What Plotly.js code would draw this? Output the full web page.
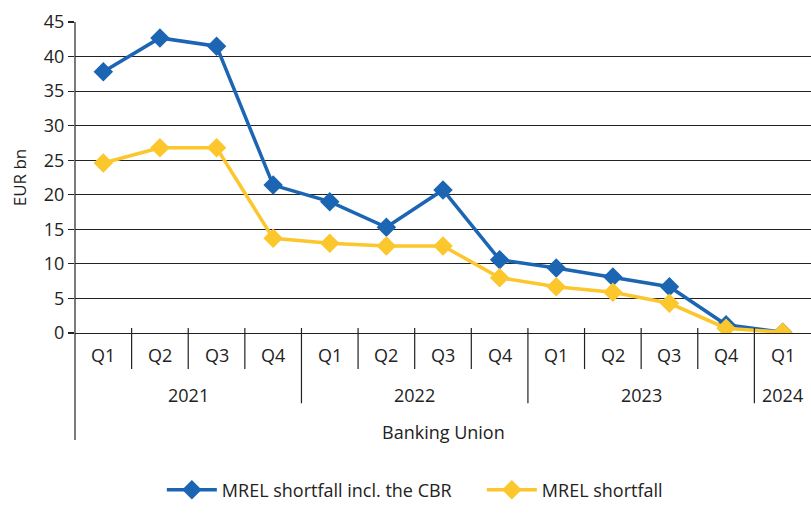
<!DOCTYPE html>
<html>
<head>
<meta charset="utf-8">
<script src="https://cdn.plot.ly/plotly-3.0.1.min.js"></script>
<style>
  html, body { margin: 0; padding: 0; background: #fff; }
  #chart { width: 811px; height: 515px; }
</style>
</head>
<body>
<div id="chart"></div>
<script>
  // quarters and their year groups
  const quarters = ['Q1', 'Q2', 'Q3', 'Q4', 'Q1', 'Q2', 'Q3', 'Q4', 'Q1', 'Q2', 'Q3', 'Q4', 'Q1'];
  const years = ['2021', '2021', '2021', '2021', '2022', '2022', '2022', '2022', '2023', '2023', '2023', '2023', '2024'];
  const groupLabel = 'Banking Union';

  // EUR bn
  const shortfallInclCBR = [37.8, 42.7, 41.5, 21.4, 19.0, 15.3, 20.7, 10.6, 9.4, 8.1, 6.7, 1.2, 0.1];
  const shortfall = [24.6, 26.8, 26.8, 13.7, 13.0, 12.6, 12.6, 8.0, 6.7, 5.9, 4.3, 0.7, 0.1];

  const seriesNames = ['MREL shortfall incl. the CBR', 'MREL shortfall'];
  const colors = ['#1c65b3', '#fcc62d'];

  const cats = quarters.map((q, i) => years[i] + ' ' + q);
  const font = { family: '"Open Sans", "Noto Sans", sans-serif', size: 18, color: '#222' };

  function trace(y, name, color) {
    return {
      x: cats, y, name, type: 'scatter', mode: 'lines+markers',
      line: { color, width: 3.5 },
      marker: { symbol: 'diamond', size: 15, color },
      hoverinfo: 'skip'
    };
  }

  const shapes = [];
  const annotations = [];

  // quarter labels and separators
  quarters.forEach((q, i) => {
    annotations.push({
      text: q, xref: 'x', yref: 'paper', x: i, y: -0.071,
      showarrow: false, xanchor: 'center', yanchor: 'middle', font
    });
    if (i > 0) {
      const yearBreak = years[i] !== years[i - 1];
      shapes.push({
        type: 'line', xref: 'x', yref: 'paper',
        x0: i - 0.5, x1: i - 0.5, y0: 0.016, y1: yearBreak ? -0.226 : -0.116,
        line: { color: '#222', width: 1.2 }
      });
    }
  });

  // year labels centred on their groups
  const yearList = [...new Set(years)];
  yearList.forEach(yr => {
    const idx = years.map((v, i) => v === yr ? i : -1).filter(i => i >= 0);
    const mid = (idx[0] + idx[idx.length - 1]) / 2;
    annotations.push({
      text: yr, xref: 'x', yref: 'paper', x: mid, y: -0.2,
      showarrow: false, xanchor: 'center', yanchor: 'middle', font
    });
  });

  annotations.push({
    text: groupLabel, xref: 'paper', yref: 'paper', x: 0.5, y: -0.318,
    showarrow: false, xanchor: 'center', yanchor: 'middle', font
  });

  // left axis line running down through the label rows
  shapes.push({
    type: 'line', xref: 'paper', yref: 'paper',
    x0: 0, x1: 0, y0: 1, y1: -0.344,
    line: { color: '#222', width: 1.2 }
  });

  const layout = {
    width: 811, height: 515,
    paper_bgcolor: '#fff', plot_bgcolor: '#fff',
    font,
    margin: { t: 22, r: 0, b: 182, l: 75, autoexpand: false },
    showlegend: true,
    legend: {
      orientation: 'h', x: 0.118, xanchor: 'left', y: -0.505, yanchor: 'middle',
      font, itemwidth: 50, traceorder: 'normal',
      entrywidth: 255, entrywidthmode: 'pixels'
    },
    xaxis: {
      type: 'category', range: [-0.5, 12.5],
      showticklabels: false, ticks: '', showgrid: false, zeroline: false,
      showline: true, linecolor: '#222', linewidth: 1.2, fixedrange: true
    },
    yaxis: {
      range: [0, 45], dtick: 5, tick0: 0,
      ticks: 'outside', ticklen: 6, tickcolor: '#222', tickwidth: 1.2,
      showgrid: true, gridcolor: '#222', gridwidth: 1.2,
      zeroline: false, showline: false,
      tickfont: font,
      title: { text: 'EUR bn', font: { ...font, size: 17 }, standoff: 12 },
      fixedrange: true
    },
    shapes,
    annotations
  };

  Plotly.newPlot('chart', [
    trace(shortfallInclCBR, seriesNames[0], colors[0]),
    trace(shortfall, seriesNames[1], colors[1])
  ], layout, { displayModeBar: false, staticPlot: true });
</script>
</body>
</html>
